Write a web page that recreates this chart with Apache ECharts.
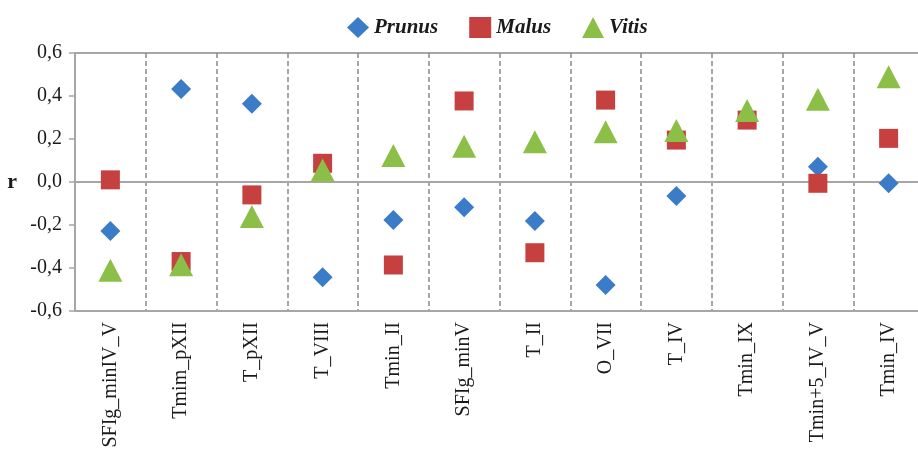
<!DOCTYPE html>
<html>
<head>
<meta charset="utf-8">
<script src="https://cdn.jsdelivr.net/npm/echarts@6/dist/echarts.min.js"></script>
<style>
  html, body { margin: 0; padding: 0; background: #fff; }
  #chart { width: 918px; height: 453px; }
</style>
</head>
<body>
<div id="chart"></div>
<script>
var categories = ['SFIg_minIV_V', 'Tmim_pXII', 'T_pXII', 'T_VIII', 'Tmin_II', 'SFIg_minV', 'T_II', 'O_VII', 'T_IV', 'Tmin_IX', 'Tmin+5_IV_V', 'Tmin_IV'];
var prunus = [-0.228, 0.433, 0.364, -0.443, -0.177, -0.118, -0.181, -0.479, -0.065, 0.3, 0.071, -0.006];
var malus = [0.01, -0.37, -0.06, 0.087, -0.386, 0.377, -0.329, 0.381, 0.195, 0.288, -0.006, 0.203];
var vitis = [-0.41, -0.385, -0.16, 0.056, 0.123, 0.166, 0.187, 0.234, 0.24, 0.333, 0.385, 0.49];
var yTicks = [-0.6, -0.4, -0.2, 0.0, 0.2, 0.4, 0.6];

var myChart = echarts.init(document.getElementById('chart'));
var serif = '"Liberation Serif", "DejaVu Serif", serif';

var option = {
  animation: false,
  legend: {
    top: 12,
    left: 342,
    itemWidth: 22,
    itemHeight: 21,
    itemGap: 31,
    textStyle: { fontFamily: serif, fontSize: 21, fontWeight: 'bold', fontStyle: 'italic', color: '#1a1a1a' },
    data: [
      { name: 'Prunus', icon: 'diamond' },
      { name: 'Malus', icon: 'rect', itemStyle: { borderWidth: 0 } },
      { name: 'Vitis', icon: 'triangle' }
    ]
  },
  grid: {
    left: 75,
    top: 53,
    height: 258,
    width: 849,
    outerBoundsMode: 'none',
    containLabel: false,
    show: true,
    borderColor: '#a6a6a6',
    borderWidth: 2
  },
  xAxis: [
    {
      type: 'category',
      data: categories,
      axisLine: { onZero: false, lineStyle: { color: '#a6a6a6', width: 2 } },
      axisTick: { show: false },
      splitLine: { show: true, lineStyle: { color: '#8a8a8a', type: [5, 3], width: 1.5 } },
      axisLabel: {
        rotate: 90,
        interval: 0,
        margin: 11,
        fontFamily: serif,
        fontSize: 20,
        color: '#1a1a1a'
      }
    },
    {
      type: 'category',
      data: categories,
      position: 'bottom',
      axisLine: { onZero: true, lineStyle: { color: '#a6a6a6', width: 2 } },
      axisTick: { show: false },
      axisLabel: { show: false },
      splitLine: { show: false }
    }
  ],
  yAxis: {
    type: 'value',
    min: -0.6,
    max: 0.6,
    interval: 0.2,
    name: 'r',
    nameLocation: 'middle',
    nameRotate: 0,
    nameGap: 58,
    nameTextStyle: { fontFamily: serif, fontSize: 22, fontWeight: 'bold', color: '#1a1a1a' },
    axisLine: { show: true, lineStyle: { color: '#a6a6a6', width: 2 } },
    axisTick: { show: true, length: 6, lineStyle: { color: '#a6a6a6', width: 1.5 } },
    splitLine: { show: false },
    axisLabel: {
      margin: 13,
      fontFamily: serif,
      fontSize: 20,
      color: '#1a1a1a',
      formatter: function (v) {
        var t = yTicks.reduce(function (a, b) { return Math.abs(b - v) < Math.abs(a - v) ? b : a; });
        return t.toFixed(1).replace('.', ',');
      }
    }
  },
  series: [
    {
      name: 'Prunus', type: 'scatter', symbol: 'diamond', symbolSize: [20, 20],
      itemStyle: { color: '#3a7cc8', opacity: 1 }, data: prunus
    },
    {
      name: 'Malus', type: 'scatter', symbol: 'rect', symbolSize: [19, 19],
      itemStyle: { color: '#c5403e', opacity: 1 }, data: malus
    },
    {
      name: 'Vitis', type: 'scatter', symbol: 'triangle', symbolSize: [24, 23],
      itemStyle: { color: '#8cbf48', opacity: 1 }, data: vitis
    }
  ]
};
myChart.setOption(option);
</script>
</body>
</html>
